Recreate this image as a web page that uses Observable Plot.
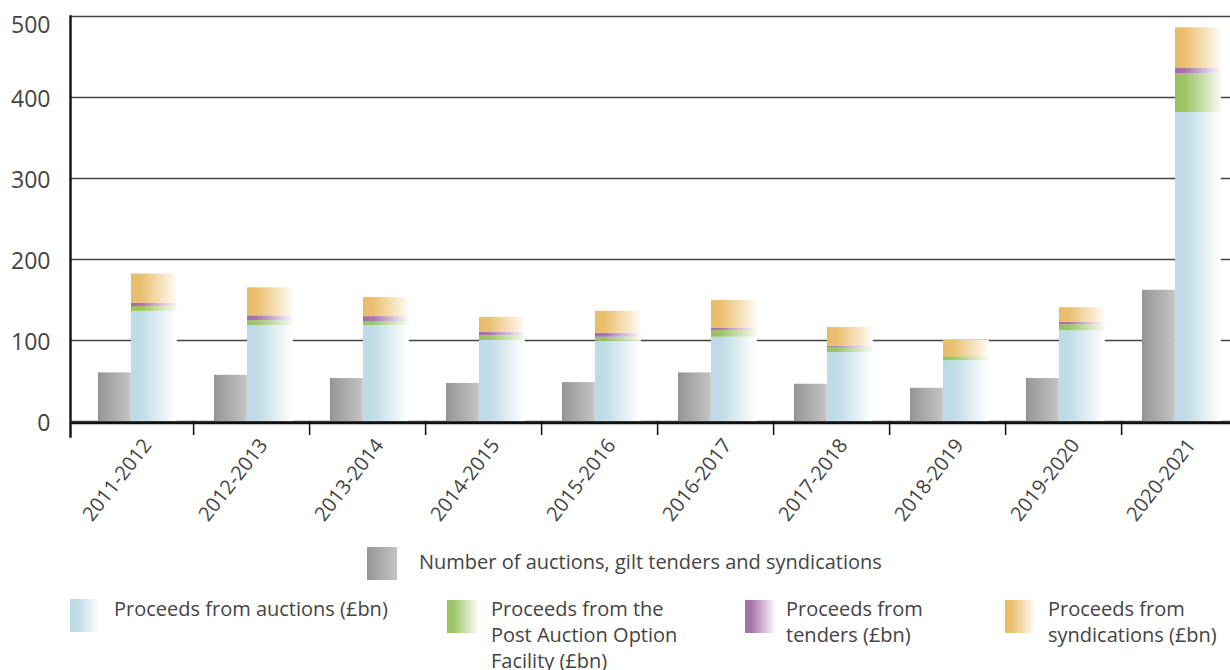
<!DOCTYPE html>
<html>
<head>
<meta charset="utf-8">
<script src="https://cdn.jsdelivr.net/npm/d3@7"></script>
<script src="https://cdn.jsdelivr.net/npm/@observablehq/plot@0.6"></script>
<style>
  html, body { margin: 0; padding: 0; background: #fff; overflow: hidden; }
  #wrap { position: relative; width: 1230px; height: 670px; font-family: "Open Sans", sans-serif; color: #444; }
  .leg { position: absolute; font-size: 20px; line-height: 26px; color: #444; white-space: nowrap; }
  .sw { width: 30px; height: 33px; position: absolute; }
</style>
</head>
<body>
<div id="wrap"><div id="chart"></div><div id="legend"></div></div>
<script>
const years = ["2011-2012","2012-2013","2013-2014","2014-2015","2015-2016","2016-2017","2017-2018","2018-2019","2019-2020","2020-2021"];
const countOps   = [60, 57, 53, 47, 48, 60, 46, 41, 53, 162];
const auctions   = [136, 118.5, 118.5, 100, 99, 104, 85, 75, 112, 381.5];
const paof       = [6, 6, 5, 6, 5, 8.5, 6.5, 5, 7.5, 47.5];
const tenders    = [4, 6, 6, 4, 5, 2.5, 1.5, 0, 3, 7.5];
const syndics    = [36, 34.5, 23.5, 18.5, 27, 34.5, 23, 20, 18, 49.5];
const yTicks = [0, 100, 200, 300, 400, 500];

const seriesNames = ["count", "auctions", "paof", "tenders", "syndics"];
const gradIds = ["gGrey", "gBlue", "gGreen", "gPurple", "gOrange"];
const gradColors = {
  gGrey:   ["#959595", "#9a9a9a", "#c4c4c4"],
  gBlue:   ["#bddbe6", "#bfdce7", "#ffffff"],
  gGreen:  ["#97c35f", "#9cc566", "#f7faf0"],
  gPurple: ["#a16ea6", "#a676ab", "#fbf7fb"],
  gOrange: ["#e8bb68", "#eabf70", "#fffcf6"]
};

const countTable = years.map((y, i) => ({year: y, series: "count", value: countOps[i]}));
const stackTable = [];
years.forEach((y, i) => {
  stackTable.push({year: y, series: "auctions", value: auctions[i]});
  stackTable.push({year: y, series: "paof", value: paof[i]});
  stackTable.push({year: y, series: "tenders", value: tenders[i]});
  stackTable.push({year: y, series: "syndics", value: syndics[i]});
});

const W = 1230, H = 530;
const xRange = [76, 1238];
const step = (xRange[1] - xRange[0]) / years.length;

const chart = Plot.plot({
  width: W, height: H,
  marginLeft: 70, marginRight: 0, marginTop: 16, marginBottom: 109,
  style: {fontFamily: "Open Sans, sans-serif", color: "#444", background: "#fff"},
  x: {domain: years, range: xRange, padding: 0, label: null},
  y: {domain: [0, 500], label: null},
  color: {domain: seriesNames, range: gradIds.map(g => `url(#${g})`)},
  marks: [
    Plot.gridY({ticks: yTicks, stroke: "#444", strokeOpacity: 1, strokeWidth: 1.4}),
    Plot.barY(countTable, {x: "year", y: "value", fill: "series", insetLeft: 21, insetRight: step - 54}),
    Plot.barY(stackTable, Plot.stackY({x: "year", y: "value", fill: "series", order: seriesNames, insetLeft: 54, insetRight: step - 100})),
    Plot.ruleY([0], {stroke: "#111", strokeWidth: 2.5, dy: 1.5}),
    Plot.frame({anchor: "left", stroke: "#1a1a1a", strokeWidth: 2.5, insetBottom: -15}),
    Plot.axisY({ticks: yTicks.slice(0, 5), tickSize: 0, tickPadding: 20, fontSize: 23, fill: "#444", dy: 2, label: null}),
    Plot.axisY({ticks: yTicks.slice(5), tickSize: 0, tickPadding: 20, fontSize: 23, fill: "#444", dy: 9, label: null}),
    Plot.axisX({ticks: years.slice(0, 9), tickSize: 14, dx: step / 2, stroke: "#111", strokeWidth: 1.5, tickFormat: () => "", label: null}),
    Plot.axisX({tickSize: 0, tickPadding: 20, tickRotate: -52, fontSize: 20, fill: "#444", dx: 12, label: null})
  ]
});

// gradients for the bar fills
const ns = "http://www.w3.org/2000/svg";
const defs = document.createElementNS(ns, "defs");
for (const id of gradIds) {
  const c = gradColors[id];
  const lg = document.createElementNS(ns, "linearGradient");
  lg.setAttribute("id", id);
  lg.setAttribute("x1", "0"); lg.setAttribute("x2", "1"); lg.setAttribute("y1", "0"); lg.setAttribute("y2", "0");
  const stops = id === "gGrey" ? [[0, c[0]], [0.1, c[1]], [1, c[2]]] : [[0, c[0]], [0.22, c[1]], [1, c[2]]];
  for (const [o, col] of stops) {
    const s = document.createElementNS(ns, "stop");
    s.setAttribute("offset", o);
    s.setAttribute("stop-color", col);
    lg.appendChild(s);
  }
  defs.appendChild(lg);
}
chart.insertBefore(defs, chart.firstChild);
document.getElementById("chart").appendChild(chart);

// legend
const legendItems = [
  {id: "gGrey",   label: "Number of auctions, gilt tenders and syndications", left: 367, top: 547, textLeft: 419, textTop: 549},
  {id: "gBlue",   label: "Proceeds from auctions (£bn)", left: 70, top: 599, textLeft: 114, textTop: 596},
  {id: "gGreen",  label: "Proceeds from the<br>Post Auction Option<br>Facility (£bn)", left: 447, top: 600, textLeft: 491, textTop: 596},
  {id: "gPurple", label: "Proceeds from<br>tenders (£bn)", left: 745, top: 600, textLeft: 786, textTop: 596},
  {id: "gOrange", label: "Proceeds from<br>syndications (£bn)", left: 1005, top: 600, textLeft: 1048, textTop: 596}
];
const leg = document.getElementById("legend");
for (const it of legendItems) {
  const c = gradColors[it.id];
  const sw = document.createElement("div");
  sw.className = "sw";
  sw.style.left = it.left + "px";
  sw.style.top = it.top + "px";
  sw.style.background = it.id === "gGrey"
    ? `linear-gradient(to right, ${c[0]}, ${c[1]} 10%, ${c[2]})`
    : `linear-gradient(to right, ${c[0]}, ${c[1]} 22%, ${c[2]})`;
  leg.appendChild(sw);
  const tx = document.createElement("div");
  tx.className = "leg";
  tx.style.left = it.textLeft + "px";
  tx.style.top = it.textTop + "px";
  tx.innerHTML = it.label;
  leg.appendChild(tx);
}
</script>
</body>
</html>
